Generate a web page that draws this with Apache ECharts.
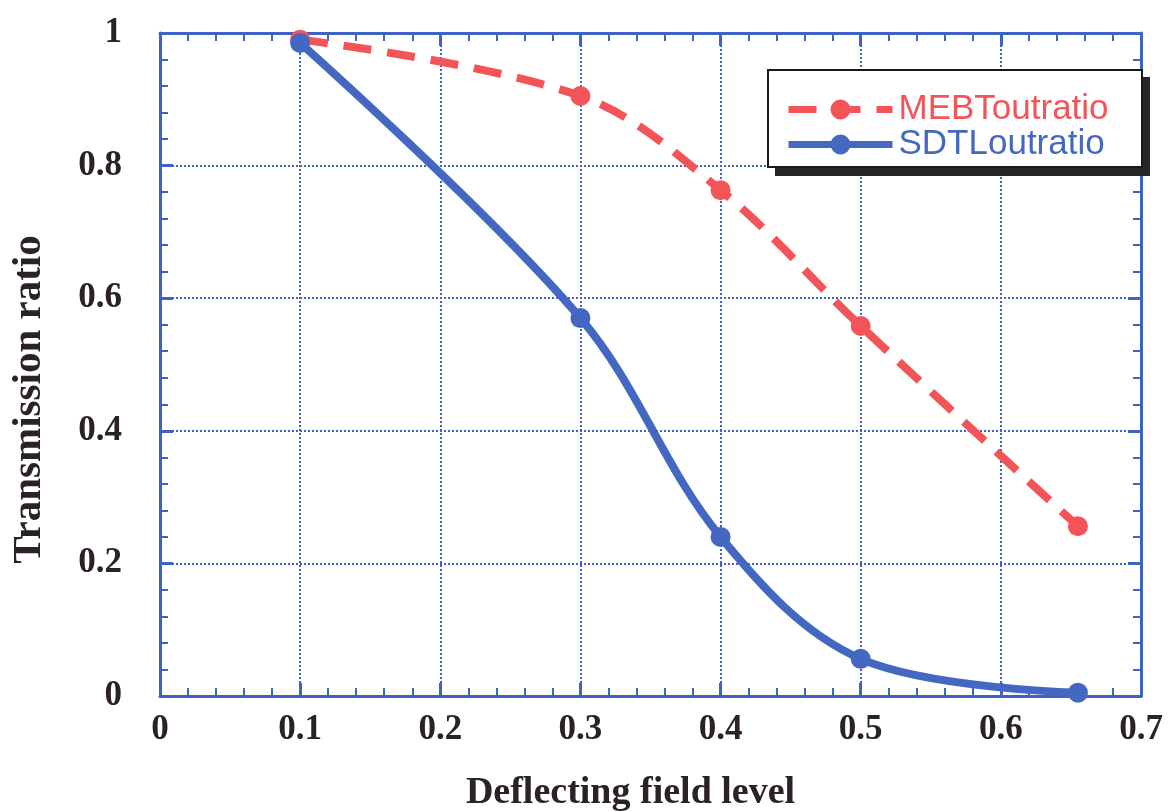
<!DOCTYPE html>
<html><head><meta charset="utf-8">
<script src="https://cdn.jsdelivr.net/npm/echarts@6/dist/echarts.min.js"></script>
<style>html,body{margin:0;padding:0;background:#fff}#c{width:1170px;height:811px}</style>
</head><body><div id="c"></div>
<script>
const xTicks = [0, 0.1, 0.2, 0.3, 0.4, 0.5, 0.6, 0.7];
const yTicks = [0, 0.2, 0.4, 0.6, 0.8, 1];
const mebX = [0.1, 0.3, 0.4, 0.5, 0.655];
const mebY = [0.99, 0.905, 0.763, 0.558, 0.256];
const sdtX = [0.1, 0.3, 0.4, 0.5, 0.655];
const sdtY = [0.985, 0.570, 0.240, 0.056, 0.005];
const seriesNames = ['MEBToutratio', 'SDTLoutratio'];

const AX = '#3d63c4', RED = '#f25458', BLUE = '#4468c2';
const font = 'Liberation Serif';
const TXT = '#2a2226';
const zip = (xs, ys) => xs.map((x, i) => [x, ys[i]]);
const tickFmt = v => String(Math.round(v * 10) / 10);

const common = {
  axisLine: {show: true, onZero: false, lineStyle: {color: AX, width: 3}},
  axisTick: {show: true, inside: true, length: 13, lineStyle: {color: AX, width: 3}},
  minorTick: {show: true, splitNumber: 5, length: 8, lineStyle: {color: AX, width: 2}},
};

const chart = echarts.init(document.getElementById('c'));
chart.setOption({
  animation: false,
  grid: {left: 160, right: 29, top: 33, bottom: 115, containLabel: false, outerBoundsMode: 'none'},
  graphic: [
    {type: 'rect', z: 50, shape: {x: 775, y: 77, width: 375, height: 99}, style: {fill: '#262626'}},
    {type: 'rect', z: 51, shape: {x: 768, y: 70, width: 374, height: 97}, style: {fill: '#fff', stroke: '#1a1a1a', lineWidth: 2}}
  ],
  legend: {
    z: 60,
    left: 785, top: 92,
    orient: 'vertical',
    padding: 0,
    itemGap: 0, itemWidth: 104, itemHeight: 25,
    lineStyle: {width: 7},
    data: [
      {name: seriesNames[0], textStyle: {color: RED}},
      {name: seriesNames[1], textStyle: {color: BLUE}}
    ],
    textStyle: {fontFamily: 'Liberation Sans', fontSize: 35, lineHeight: 28, padding: [0, 0, 0, 1]}
  },
  xAxis: [
    Object.assign({}, common, {
      type: 'value', min: 0, max: 0.7, interval: 0.1, position: 'bottom',
      axisLabel: {formatter: tickFmt, margin: 16, fontFamily: font, fontWeight: 'bold', fontSize: 35, color: TXT, showMaxLabel: true},
      splitLine: {show: true, lineStyle: {color: AX, width: 2, type: [2, 2]}},
      name: 'Deflecting field level', nameLocation: 'middle', nameGap: 78,
      nameTextStyle: {fontFamily: font, fontWeight: 'bold', fontSize: 38, color: TXT, padding: [0, 40, 0, 0]}
    }),
    Object.assign({}, common, {
      type: 'value', min: 0, max: 0.7, interval: 0.1, position: 'top',
      axisLabel: {show: false}, splitLine: {show: false}
    })
  ],
  yAxis: [
    Object.assign({}, common, {
      type: 'value', min: 0, max: 1, interval: 0.2, position: 'left',
      axisLabel: {formatter: tickFmt, margin: 38, fontFamily: font, fontWeight: 'bold', fontSize: 35, color: TXT},
      splitLine: {show: true, lineStyle: {color: AX, width: 2, type: [2, 2]}},
      name: 'Transmission ratio', nameLocation: 'middle', nameGap: 110,
      nameTextStyle: {fontFamily: font, fontWeight: 'bold', fontSize: 41, color: TXT, padding: [0, 70, 0, 0]}
    }),
    Object.assign({}, common, {
      type: 'value', min: 0, max: 1, interval: 0.2, position: 'right',
      axisLabel: {show: false}, splitLine: {show: false}
    })
  ],
  series: [
    {
      name: seriesNames[0], type: 'line', data: zip(mebX, mebY), smooth: 0.35,
      symbol: 'circle', symbolSize: 20, z: 3,
      itemStyle: {color: RED},
      lineStyle: {color: RED, width: 8, type: [28, 16]}
    },
    {
      name: seriesNames[1], type: 'line', data: zip(sdtX, sdtY), smooth: 0.35,
      symbol: 'circle', symbolSize: 20, z: 4,
      itemStyle: {color: BLUE},
      lineStyle: {color: BLUE, width: 8}
    }
  ]
});
</script></body></html>
